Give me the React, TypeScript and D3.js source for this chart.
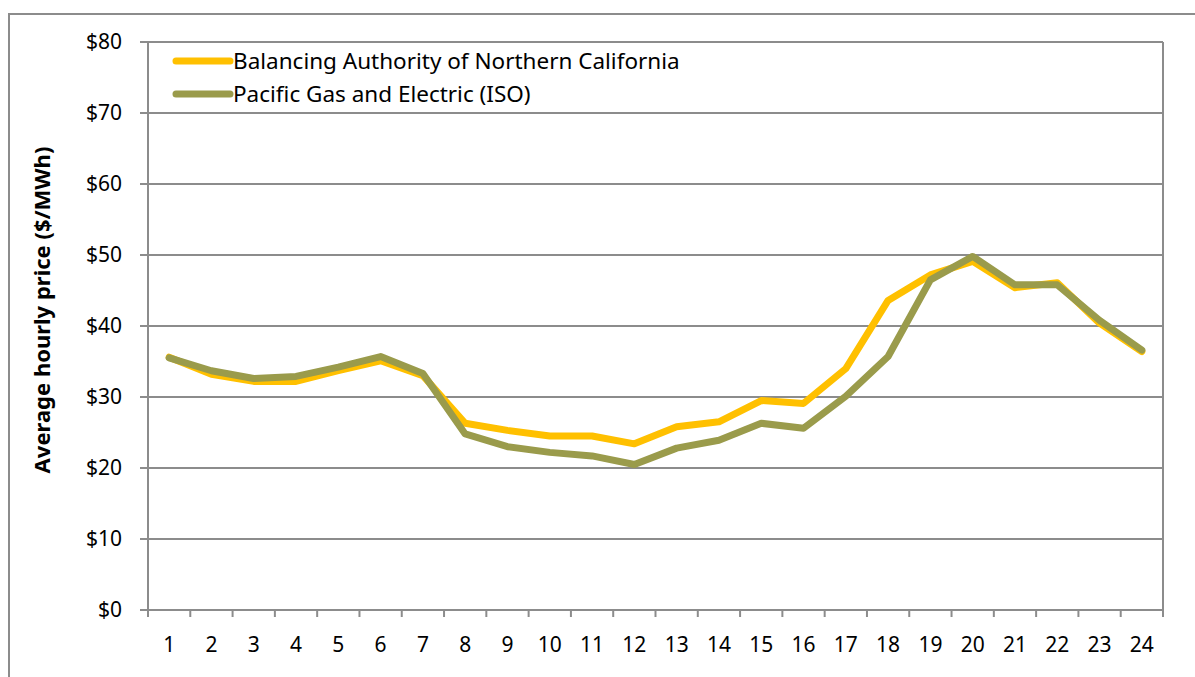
import React from "react";
import * as d3 from "d3";

const hours = d3.range(1, 25).map(String);
const bancPrices = [
  35.6, 33.2, 32.2, 32.2, 33.7, 35.1, 33.0, 26.3, 25.3, 24.5, 24.5, 23.4,
  25.8, 26.5, 29.5, 29.1, 34.0, 43.6, 47.2, 49.1, 45.4, 46.1, 40.4, 36.4,
];
const pgePrices = [
  35.5, 33.7, 32.6, 32.9, 34.2, 35.7, 33.3, 24.8, 23.0, 22.2, 21.7, 20.5,
  22.8, 23.9, 26.3, 25.6, 30.1, 35.7, 46.5, 49.8, 45.8, 45.8, 40.8, 36.6,
];
const yTicks = [0, 10, 20, 30, 40, 50, 60, 70, 80];
const seriesNames = [
  "Balancing Authority of Northern California",
  "Pacific Gas and Electric (ISO)",
];
const seriesColors = ["#FFC000", "#9A9B4B"];

const W = 1195;
const H = 677;
const margin = { top: 42, right: 32, bottom: 67, left: 148 };
const font = "'Noto Sans', 'Open Sans', sans-serif";
const gridColor = "#8C8C8C";

const App = () => {
  const innerW = W - margin.left - margin.right;
  const innerH = H - margin.top - margin.bottom;

  const x = d3.scaleBand().domain(hours).range([0, innerW]);
  const y = d3.scaleLinear().domain([0, 80]).range([innerH, 0]);

  const line = d3
    .line<number>()
    .x((_, i) => (x(hours[i]) as number) + x.bandwidth() / 2)
    .y((d) => y(d));

  const series = [bancPrices, pgePrices];

  return (
    <svg
      width={W}
      height={H}
      style={{ position: "absolute", left: 0, top: 0, background: "#fff" }}
    >
      {/* outer chart frame */}
      <rect
        x={9}
        y={14}
        width={W + 20}
        height={H + 20}
        fill="none"
        stroke={gridColor}
        strokeWidth={2}
      />
      <g transform={`translate(${margin.left},${margin.top})`}>
        {/* gridlines + y ticks */}
        {yTicks.map((t) => (
          <g key={t}>
            <line x1={0} x2={innerW} y1={y(t)} y2={y(t)} stroke={gridColor} strokeWidth={2} />
            <line x1={-8} x2={0} y1={y(t)} y2={y(t)} stroke={gridColor} strokeWidth={2} />
            <text
              x={-26}
              y={y(t)}
              dy="0.35em"
              textAnchor="end"
              fontFamily={font}
              fontSize={21}
              fill="#000"
            >
              {`$${t}`}
            </text>
          </g>
        ))}
        {/* plot area sides */}
        <line x1={0} x2={0} y1={0} y2={innerH} stroke={gridColor} strokeWidth={2} />
        <line x1={innerW} x2={innerW} y1={0} y2={innerH} stroke={gridColor} strokeWidth={2} />
        {/* x ticks */}
        {hours.map((h) => (
          <line
            key={"t" + h}
            x1={x(h) as number}
            x2={x(h) as number}
            y1={innerH}
            y2={innerH + 7}
            stroke={gridColor}
            strokeWidth={2}
          />
        ))}
        <line x1={innerW} x2={innerW} y1={innerH} y2={innerH + 7} stroke={gridColor} strokeWidth={2} />
        {hours.map((h) => (
          <text
            key={"l" + h}
            x={(x(h) as number) + x.bandwidth() / 2}
            y={innerH + 35}
            dy="0.35em"
            textAnchor="middle"
            fontFamily={font}
            fontSize={21}
            fill="#000"
          >
            {h}
          </text>
        ))}
        {/* series */}
        {series.map((s, i) => (
          <path
            key={i}
            d={line(s) as string}
            fill="none"
            stroke={seriesColors[i]}
            strokeWidth={7}
            strokeLinejoin="round"
            strokeLinecap="round"
          />
        ))}
        {/* legend */}
        {seriesNames.map((name, i) => (
          <g key={name} transform={`translate(25,${19 + i * 33})`}>
            <line x1={3} x2={57} y1={0} y2={0} stroke={seriesColors[i]} strokeWidth={7} strokeLinecap="round" />
            <text x={60} y={0} dy="0.35em" fontFamily={font} fontSize={22.5} fill="#000">
              {name}
            </text>
          </g>
        ))}
      </g>
      {/* y axis title */}
      <text
        transform={`translate(42,310) rotate(-90)`}
        textAnchor="middle"
        dy="0.35em"
        fontFamily={font}
        fontSize={22}
        fontWeight="bold"
        fill="#000"
      >
        Average hourly price ($/MWh)
      </text>
    </svg>
  );
};

export default App;
